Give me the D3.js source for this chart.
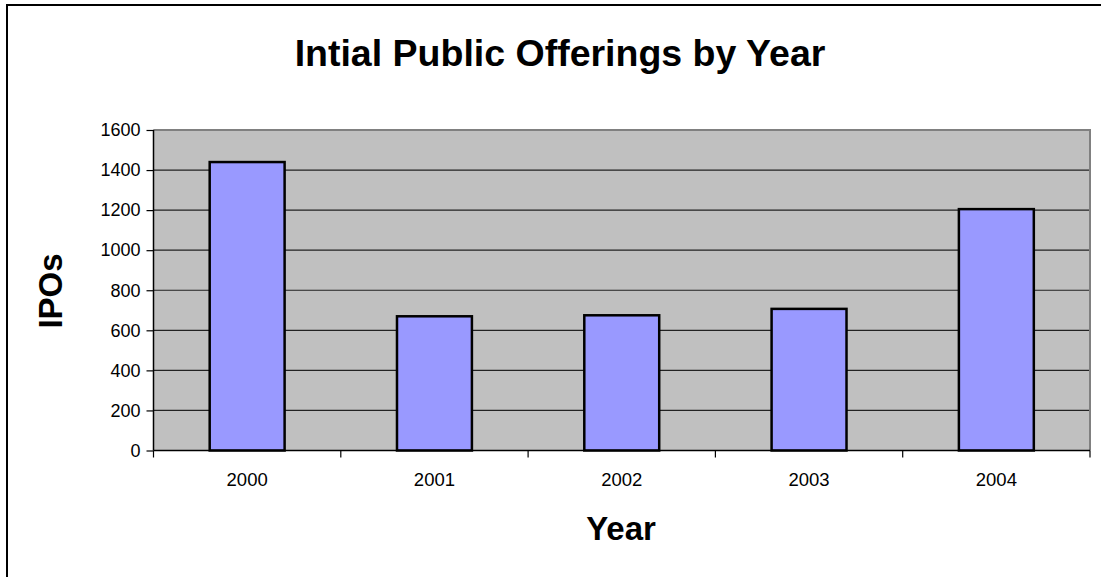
<!DOCTYPE html>
<html><head><meta charset="utf-8">
<script src="https://cdn.jsdelivr.net/npm/d3@7"></script>
<style>body{margin:0;background:#fff}svg{display:block}text{font-family:"Liberation Sans",Arial,sans-serif}</style>
</head><body>
<svg id="c" width="1101" height="577"></svg>
<script>
const years = ["2000","2001","2002","2003","2004"];
const ipos = [1440, 670, 675, 707, 1205];
const yTicks = [0,200,400,600,800,1000,1200,1400,1600];
const title = "Intial Public Offerings by Year";
const xTitle = "Year";
const yTitle = "IPOs";

const svg = d3.select("#c");
const m = {l:153.5, t:130, r:1090, b:450.5};

// outer chart border (open on right/bottom)
svg.append("rect").attr("x",7).attr("y",5).attr("width",1200).attr("height",700)
  .attr("fill","#fff").attr("stroke","#000").attr("stroke-width",2);

const x = d3.scaleBand().domain(years).range([m.l,m.r]).paddingInner(0.6).paddingOuter(0.3);
const xb = d3.scaleBand().domain(years).range([m.l,m.r]);
const y = d3.scaleLinear().domain([0,1600]).range([m.b,m.t]);

// plot area
svg.append("rect").attr("x",m.l).attr("y",m.t).attr("width",m.r-m.l).attr("height",m.b-m.t)
  .attr("fill","#C0C0C0");
// gridlines
svg.append("g").selectAll("line").data(yTicks.filter(d=>d>0)).join("line")
  .attr("x1",m.l).attr("x2",m.r).attr("y1",d=>y(d)).attr("y2",d=>y(d))
  .attr("stroke","#222").attr("stroke-width",1.2);
// top & right border gray
svg.append("path").attr("d",`M${m.l},${m.t}H${m.r}V${m.b}`).attr("fill","none")
  .attr("stroke","#808080").attr("stroke-width",2);

// bars
svg.append("g").selectAll("rect").data(years).join("rect")
  .attr("x",d=>x(d)).attr("width",x.bandwidth())
  .attr("y",(d,i)=>y(ipos[i])).attr("height",(d,i)=>y(0)-y(ipos[i]))
  .attr("fill","#9999FF").attr("stroke","#000").attr("stroke-width",2.5);

// y axis
const ya = d3.axisLeft(y).tickValues(yTicks).tickSize(7).tickPadding(6).tickFormat(d3.format("d"));
const gy = svg.append("g").attr("transform",`translate(${m.l},0)`).call(ya);
gy.select(".domain").attr("stroke","#000").attr("stroke-width",1.5).attr("d",`M0,${m.t}V${m.b}`);
gy.selectAll(".tick line").attr("stroke","#000").attr("stroke-width",1.2);
gy.selectAll("text").attr("font-size",18).attr("fill","#000").attr("font-family","Liberation Sans, Arial, sans-serif");

// x axis
const xa = d3.axisBottom(xb).tickSize(0).tickPadding(22);
const gx = svg.append("g").attr("transform",`translate(0,${m.b})`).call(xa);
gx.select(".domain").attr("stroke","#000").attr("stroke-width",1.5).attr("d",`M${m.l},0H${m.r}`);
gx.selectAll("text").attr("font-size",18.5).attr("fill","#000").attr("font-family","Liberation Sans, Arial, sans-serif");
// x tick marks at band boundaries
const bounds = years.map(d=>xb(d)).concat([m.r]);
svg.append("g").selectAll("line").data(bounds).join("line")
  .attr("x1",d=>d).attr("x2",d=>d).attr("y1",m.b).attr("y2",m.b+7)
  .attr("stroke","#000").attr("stroke-width",1.2);

// titles
svg.append("text").attr("x",560).attr("y",66).attr("text-anchor","middle")
  .attr("font-size",37.5).attr("font-weight","bold").text(title);
svg.append("text").attr("x",621).attr("y",540).attr("text-anchor","middle")
  .attr("font-size",33).attr("font-weight","bold").text(xTitle);
svg.append("text").attr("transform","translate(62,291) rotate(-90)").attr("text-anchor","middle")
  .attr("font-size",33).attr("font-weight","bold").text(yTitle);
</script>
</body></html>
